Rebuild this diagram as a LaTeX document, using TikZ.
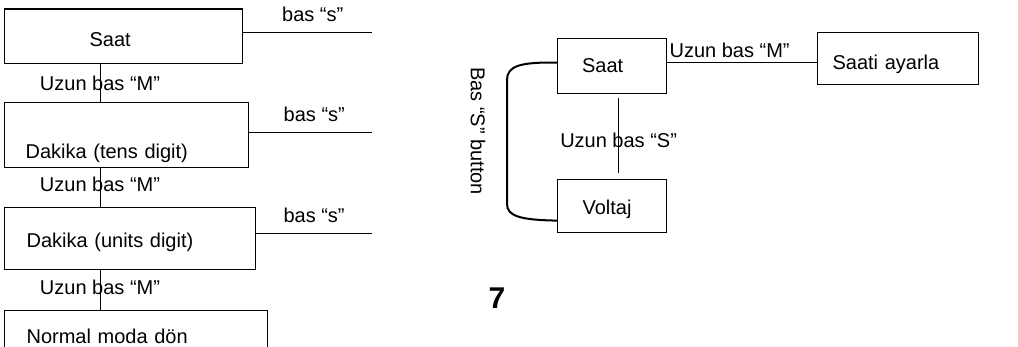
\documentclass[tikz,border=0pt]{standalone}
\usepackage{fontspec}
\setmainfont{Liberation Sans}
\usetikzlibrary{calc,positioning}

\tikzset{
  modebox/.style={draw,line width=1.2pt,align=left,anchor=north west,inner ysep=0pt},
  wire/.style={line width=0.9pt},
  tag/.style={inner sep=2pt}
}

\begin{document}
\begin{tikzpicture}[x=1pt,y=-1pt,every node/.style={font=\fontsize{20}{24}\selectfont}]
  \useasboundingbox (0,0) rectangle (1018,347);
  \clip (0,0) rectangle (1018,347);
  % left column
  \node[modebox,minimum width=238pt,minimum height=54.5pt,inner xsep=85pt,text width=68pt,
        text height=20pt,text depth=0pt] (saatL) at (4,8.5) {Saat};
  \node[modebox,minimum width=244pt,minimum height=65pt,inner xsep=21pt,text width=202pt,
        text height=50pt,text depth=4pt] (tensL) at (4,102) {Dakika (tens digit)};
  \node[modebox,minimum width=251pt,minimum height=62pt,inner xsep=22pt,text width=207pt,
        text height=22pt,text depth=4pt] (unitsL) at (4,207) {Dakika (units digit)};
  \node[modebox,minimum width=263pt,minimum height=50pt,inner xsep=22pt,text width=219pt,
        text height=15pt,text depth=0pt] (normalL) at (4,310) {Normal moda dön};
  \coordinate (sEnd1) at (372,32);
  \coordinate (sEnd2) at (372,132);
  \coordinate (sEnd3) at (372,233);
  \draw[wire] (sEnd1 -| saatL.east) -- (sEnd1) node[pos=0.54,above=8pt,tag] {bas “s”};
  \draw[wire] (sEnd2 -| tensL.east) -- (sEnd2) node[pos=0.53,above=8pt,tag] {bas “s”};
  \draw[wire] (sEnd3 -| unitsL.east) -- (sEnd3) node[pos=0.5,above=8pt,tag] {bas “s”};
  \draw[wire] ($(saatL.south west)+(96,0)$) -- ($(tensL.north west)+(96,0)$)
    node[midway,tag] {Uzun bas “M”};
  \draw[wire] ($(tensL.south west)+(96,0)$) -- ($(unitsL.north west)+(96,0)$)
    node[pos=0.42,tag] {Uzun bas “M”};
  \draw[wire] ($(unitsL.south west)+(96,0)$) -- ($(normalL.north west)+(96,0)$)
    node[pos=0.42,tag] {Uzun bas “M”};
  % right part
  \node[modebox,minimum width=109pt,minimum height=55pt,inner xsep=24.5pt,text width=60pt,
        text height=15pt,text depth=2pt] (saatR) at (557,38) {Saat};
  \node[modebox,minimum width=109pt,minimum height=53pt,inner xsep=25pt,text width=59pt,
        text height=21pt,text depth=4pt] (voltaj) at (557,179) {Voltaj};
  \node[modebox,minimum width=161pt,minimum height=52pt,inner xsep=15pt,text width=131pt,
        text height=26pt,text depth=4pt] (ayarla) at (817,32) {Saati ayarla};
  \draw[wire] ($(saatR.east)+(0,-3.5)$) -- ($(ayarla.west)+(0,4)$)
    node[pos=0,anchor=base west,yshift=5pt,tag] {Uzun bas “M”};
  \draw[wire] ($(saatR.south)+(6.5,4)$) -- ($(voltaj.north)+(6.5,-6)$)
    node[pos=0.57,tag] {Uzun bas “S”};
  \draw[line width=2pt] ($(saatR.west)+(0,-3.5)$) .. controls (520,62) and (507,66) .. (507,80)
    -- (507,204) .. controls (507,216) and (520,220) .. ($(voltaj.west)+(0,14.5)$);
  \node[rotate=-90] (btnlbl) at (478,131) {Bas “S” button};
  \node[font=\fontsize{30}{36}\selectfont\bfseries] (pagenum) at (497,298) {7};
\end{tikzpicture}
\end{document}
